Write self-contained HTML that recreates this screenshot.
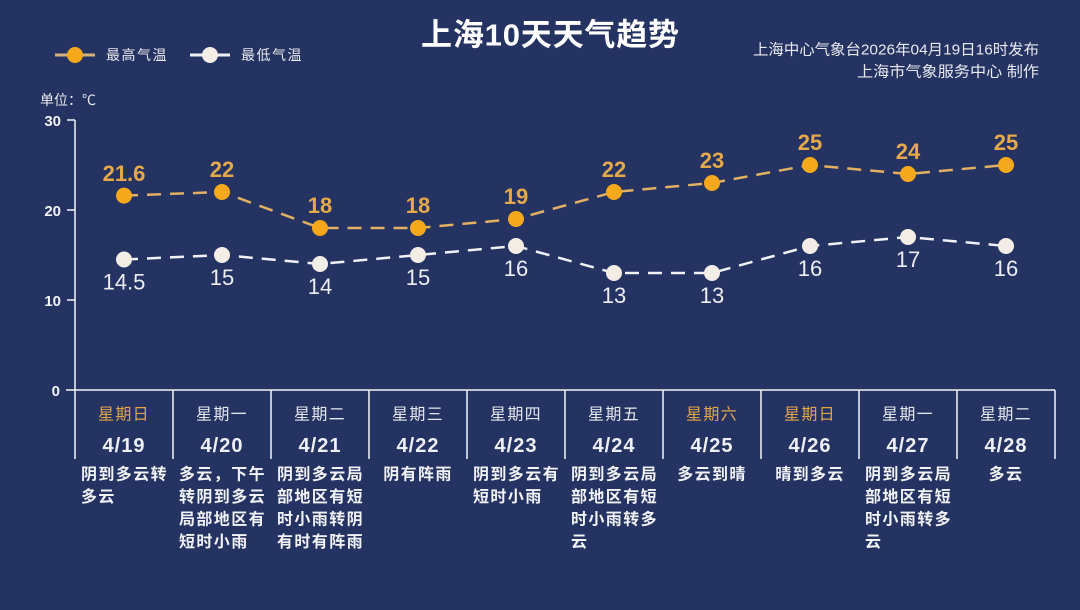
<!DOCTYPE html>
<html><head><meta charset="utf-8"><style>
html,body{margin:0;padding:0;background:#243361;}
svg{display:block;}
text{font-family:"Liberation Sans","Noto Sans CJK SC",sans-serif;}
</style></head><body>
<svg width="1080" height="610" viewBox="0 0 1080 610" xmlns="http://www.w3.org/2000/svg">
<rect width="1080" height="610" fill="#243361"/>
<!-- title -->
<text x="550" y="35" text-anchor="middle" dominant-baseline="central" font-size="31" font-weight="bold" fill="#ffffff" textLength="258" lengthAdjust="spacing">上海10天天气趋势</text>
<!-- legend -->
<line x1="55" y1="55" x2="95" y2="55" stroke="#d6b27a" stroke-width="3"/>
<circle cx="75" cy="55" r="8" fill="#f5a81c"/>
<text x="106" y="55" dominant-baseline="central" font-size="14" fill="#e8eaf0" letter-spacing="1.5">最高气温</text>
<line x1="190" y1="55" x2="230" y2="55" stroke="#eef0f6" stroke-width="3"/>
<circle cx="210" cy="55" r="8" fill="#f4ede6"/>
<text x="241" y="55" dominant-baseline="central" font-size="14" fill="#e8eaf0" letter-spacing="1.5">最低气温</text>
<!-- top right -->
<text x="1039" y="50" text-anchor="end" dominant-baseline="central" font-size="15" fill="#e8eaf0" textLength="286" lengthAdjust="spacingAndGlyphs">上海中心气象台2026年04月19日16时发布</text>
<text x="1039" y="72" text-anchor="end" dominant-baseline="central" font-size="15" fill="#e8eaf0" textLength="182" lengthAdjust="spacingAndGlyphs">上海市气象服务中心  制作</text>
<!-- unit -->
<text x="40" y="100" dominant-baseline="central" font-size="14" fill="#e8eaf0">单位：℃</text>
<!-- axis -->
<g stroke="#f2f4f8" stroke-width="1.5" fill="none">
<line x1="75" y1="120" x2="75" y2="390"/>
<line x1="67" y1="120" x2="75" y2="120"/>
<line x1="67" y1="210" x2="75" y2="210"/>
<line x1="67" y1="300" x2="75" y2="300"/>
<line x1="66" y1="390" x2="1055" y2="390"/>
<line x1="173" y1="390" x2="173" y2="459"/>
<line x1="271" y1="390" x2="271" y2="459"/>
<line x1="369" y1="390" x2="369" y2="459"/>
<line x1="467" y1="390" x2="467" y2="459"/>
<line x1="565" y1="390" x2="565" y2="459"/>
<line x1="663" y1="390" x2="663" y2="459"/>
<line x1="761" y1="390" x2="761" y2="459"/>
<line x1="859" y1="390" x2="859" y2="459"/>
<line x1="957" y1="390" x2="957" y2="459"/>
<line x1="1055" y1="390" x2="1055" y2="459"/>
<line x1="75" y1="390" x2="75" y2="459"/>
</g>
<g font-size="15" font-weight="bold" fill="#f2f4f8" text-anchor="end">
<text x="61" y="126">30</text>
<text x="61" y="216">20</text>
<text x="61" y="306">10</text>
<text x="60" y="396">0</text>
</g>
<!-- series lines -->
<polyline points="124,195.6 222,192 320,228 418,228 516,219 614,192 712,183 810,165 908,174 1006,165" fill="none" stroke="#e2b062" stroke-width="2.5" stroke-dasharray="14 9"/>
<polyline points="124,259.5 222,255 320,264 418,255 516,246 614,273 712,273 810,246 908,237 1006,246" fill="none" stroke="#f0f2f8" stroke-width="2.5" stroke-dasharray="14 9"/>
<g fill="#f5a81c">
<circle cx="124" cy="195.6" r="8"/><circle cx="222" cy="192" r="8"/><circle cx="320" cy="228" r="8"/><circle cx="418" cy="228" r="8"/><circle cx="516" cy="219" r="8"/><circle cx="614" cy="192" r="8"/><circle cx="712" cy="183" r="8"/><circle cx="810" cy="165" r="8"/><circle cx="908" cy="174" r="8"/><circle cx="1006" cy="165" r="8"/>
</g>
<g fill="#f4ede6">
<circle cx="124" cy="259.5" r="8"/><circle cx="222" cy="255" r="8"/><circle cx="320" cy="264" r="8"/><circle cx="418" cy="255" r="8"/><circle cx="516" cy="246" r="8"/><circle cx="614" cy="273" r="8"/><circle cx="712" cy="273" r="8"/><circle cx="810" cy="246" r="8"/><circle cx="908" cy="237" r="8"/><circle cx="1006" cy="246" r="8"/>
</g>
<g font-size="22" font-weight="bold" fill="#e5a94b" text-anchor="middle">
<text x="124" y="181">21.6</text><text x="222" y="177">22</text><text x="320" y="213">18</text><text x="418" y="213">18</text><text x="516" y="204">19</text><text x="614" y="177">22</text><text x="712" y="168">23</text><text x="810" y="150">25</text><text x="908" y="159">24</text><text x="1006" y="150">25</text>
</g>
<g font-size="22" fill="#eceef4" text-anchor="middle">
<text x="124" y="289.5">14.5</text><text x="222" y="285">15</text><text x="320" y="294">14</text><text x="418" y="285">15</text><text x="516" y="276">16</text><text x="614" y="303">13</text><text x="712" y="303">13</text><text x="810" y="276">16</text><text x="908" y="267">17</text><text x="1006" y="276">16</text>
</g>
<!-- day labels -->
<g font-size="16" text-anchor="middle" dominant-baseline="central" letter-spacing="1.3" fill="#e4e7ee">
<text x="124" y="415" fill="#e3a54a">星期日</text>
<text x="222" y="415">星期一</text>
<text x="320" y="415">星期二</text>
<text x="418" y="415">星期三</text>
<text x="516" y="415">星期四</text>
<text x="614" y="415">星期五</text>
<text x="712" y="415" fill="#e3a54a">星期六</text>
<text x="810" y="415" fill="#e3a54a">星期日</text>
<text x="908" y="415">星期一</text>
<text x="1006" y="415">星期二</text>
</g>
<g font-size="20" font-weight="bold" text-anchor="middle" fill="#eef0f5" letter-spacing="1">
<text x="124" y="452">4/19</text>
<text x="222" y="452">4/20</text>
<text x="320" y="452">4/21</text>
<text x="418" y="452">4/22</text>
<text x="516" y="452">4/23</text>
<text x="614" y="452">4/24</text>
<text x="712" y="452">4/25</text>
<text x="810" y="452">4/26</text>
<text x="908" y="452">4/27</text>
<text x="1006" y="452">4/28</text>
</g>
<!-- weather text -->
<g font-size="16" font-weight="bold" fill="#f2f3f7" dominant-baseline="central" letter-spacing="1.4">
<text x="81" y="475">阴到多云转</text><text x="81" y="497.5">多云</text>
<text x="179" y="475">多云，下午</text><text x="179" y="497.5">转阴到多云</text><text x="179" y="520">局部地区有</text><text x="179" y="542.5">短时小雨</text>
<text x="277" y="475">阴到多云局</text><text x="277" y="497.5">部地区有短</text><text x="277" y="520">时小雨转阴</text><text x="277" y="542.5">有时有阵雨</text>
<text x="418" y="475" text-anchor="middle">阴有阵雨</text>
<text x="473" y="475">阴到多云有</text><text x="473" y="497.5">短时小雨</text>
<text x="571" y="475">阴到多云局</text><text x="571" y="497.5">部地区有短</text><text x="571" y="520">时小雨转多</text><text x="571" y="542.5">云</text>
<text x="712" y="475" text-anchor="middle">多云到晴</text>
<text x="810" y="475" text-anchor="middle">晴到多云</text>
<text x="865" y="475">阴到多云局</text><text x="865" y="497.5">部地区有短</text><text x="865" y="520">时小雨转多</text><text x="865" y="542.5">云</text>
<text x="1006" y="475" text-anchor="middle">多云</text>
</g>
</svg>
</body></html>
